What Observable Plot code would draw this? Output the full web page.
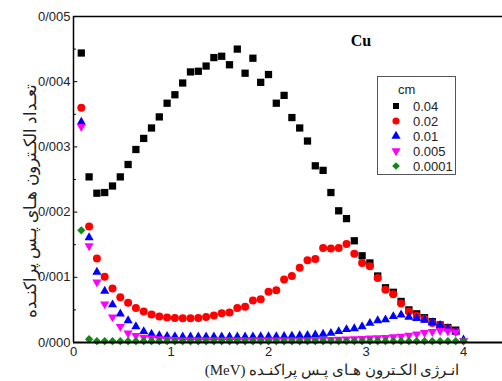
<!DOCTYPE html>
<html><head><meta charset="utf-8">
<script src="https://cdn.jsdelivr.net/npm/d3@7"></script>
<script src="https://cdn.jsdelivr.net/npm/@observablehq/plot@0.6"></script>
<style>body{margin:0;background:#fff} svg{display:block}</style>
</head><body><div id="chart"></div>
<script>
// Energy of backscattered electrons (MeV)
const energy = [0.08,0.16,0.24,0.32,0.40,0.48,0.56,0.64,0.72,0.80,
  0.88,0.96,1.04,1.12,1.20,1.28,1.36,1.44,1.52,1.60,
  1.68,1.76,1.84,1.92,2.00,2.08,2.16,2.24,2.32,2.40,
  2.48,2.56,2.64,2.72,2.80,2.88,2.96,3.04,3.12,3.20,
  3.28,3.36,3.44,3.52,3.60,3.68,3.76,3.84,3.92,4.00];

const seriesNames = ["0.04","0.02","0.01","0.005","0.0001"];
const seriesColors = ["#000000","#ff0000","#0000ff","#ff00ff","#118811"];

// counts, in units of 0.001
const s004 = [4.44,2.54,2.29,2.30,2.40,2.54,2.73,2.96,3.13,3.29,
  3.46,3.67,3.80,3.98,4.15,4.16,4.24,4.37,4.39,4.26,
  4.50,4.13,4.36,3.99,4.11,3.67,3.79,3.45,3.29,3.09,
  2.71,2.64,2.30,2.02,1.90,1.56,1.33,1.22,1.02,0.84,
  0.77,0.63,0.50,0.44,0.38,0.32,0.27,0.23,0.19];
const s002 = [3.60,1.78,1.29,1.01,0.83,0.695,0.61,0.53,0.475,0.43,
  0.40,0.383,0.375,0.373,0.373,0.375,0.39,0.414,0.45,0.46,
  0.53,0.55,0.645,0.665,0.78,0.80,0.966,1.02,1.145,1.26,
  1.28,1.45,1.44,1.45,1.51,1.36,1.22,1.17,0.99,0.81,
  0.74,0.60,0.475,0.41,0.36,0.30,0.26,0.22,0.17];
const s001 = [3.38,1.61,1.08,0.79,0.58,0.44,0.337,0.245,0.17,0.13,
  0.107,0.097,0.09,0.088,0.087,0.086,0.086,0.086,0.087,0.087,
  0.088,0.088,0.089,0.09,0.09,0.092,0.095,0.10,0.105,0.11,
  0.118,0.13,0.143,0.17,0.20,0.215,0.245,0.296,0.337,0.35,
  0.40,0.425,0.39,0.37,0.345,0.305,0.265,0.215,0.165,0.04];
const s0005 = [3.31,1.48,0.925,0.59,0.39,0.245,0.143,0.107,0.08,0.065,
  0.055,0.048,0.042,0.038,0.035,0.035,0.035,0.035,0.035,0.035,
  0.035,0.035,0.035,0.035,0.035,0.035,0.035,0.035,0.036,0.038,
  0.04,0.042,0.045,0.048,0.052,0.056,0.06,0.065,0.07,0.075,
  0.085,0.095,0.11,0.13,0.15,0.165,0.18,0.175,0.16,0.03];
const s00001 = [1.72,0.05,0.02,0.02,0.02,0.02,0.02,0.02,0.02,0.02,
  0.02,0.02,0.02,0.02,0.02,0.02,0.02,0.02,0.02,0.02,
  0.02,0.02,0.02,0.02,0.02,0.02,0.02,0.02,0.02,0.02,
  0.02,0.02,0.02,0.02,0.02,0.02,0.02,0.02,0.02,0.02,
  0.02,0.02,0.02,0.02,0.02,0.02,0.02,0.02,0.02,0.02];

const yTicks = [0,0.001,0.002,0.003,0.004,0.005];
const yMinor = [0.0005,0.0015,0.0025,0.0035,0.0045];
const xTicks = [0,1,2,3,4];

const allSeries = [s004, s002, s001, s0005, s00001];
const rows = allSeries.map((vals, i) =>
  vals.map((v, j) => ({e: energy[j], n: v / 1000, s: seriesNames[i]})));

const symbolSpec = [
  {symbol: "square", r: 4.1, rotate: 0},
  {symbol: "circle", r: 4, rotate: 0},
  {symbol: "triangle", r: 3.4, rotate: 0},
  {symbol: "triangle", r: 3.4, rotate: 180},
  {symbol: "square", r: 3.3, rotate: 45}
];

const fmt = d => d.toFixed(3).replace(".", "/");

const chart = Plot.plot({
  width: 502, height: 381,
  marginLeft: 73, marginTop: 16, marginBottom: 39, marginRight: 0,
  style: {fontFamily: "'Liberation Sans', Arial, sans-serif", fontSize: "13px", background: "#fff"},
  x: {domain: [0, 4.4]},
  y: {domain: [0, 0.005]},
  marks: [
    Plot.axisY({ticks: yTicks, tickFormat: fmt, tickSize: 0, tickPadding: 3, label: null, fill: "#222", fontSize: 13}),
    Plot.axisX({ticks: xTicks, tickFormat: d => String(d), tickSize: 0, tickPadding: 4, label: null, fill: "#222", fontSize: 13}),
    Plot.ruleY(yTicks.slice(1, -1), {x1: 0, x2: 0.045, stroke: "#000", strokeWidth: 1}),
    Plot.ruleY(yMinor, {x1: 0, x2: 0.03, stroke: "#000", strokeWidth: 1}),
    ...rows.map((data, i) => Plot.dot(data, {
      x: "e", y: "n", symbol: symbolSpec[i].symbol, r: symbolSpec[i].r,
      rotate: symbolSpec[i].rotate, fill: seriesColors[i], stroke: "none"
    })),
    Plot.ruleY([0.005], {stroke: "#000", strokeWidth: 1.5}),
    Plot.ruleY([0], {stroke: "#000", strokeWidth: 2}),
    Plot.ruleX([0], {stroke: "#000", strokeWidth: 1.5})
  ]
});
document.getElementById("chart").appendChild(chart);

const svg = d3.select(chart);
// Axis titles
svg.append("text")
  .attr("x", 332).attr("y", 375)
  .attr("text-anchor", "middle")
  .attr("direction", "rtl")
  .style("font-family", "'Liberation Serif','DejaVu Serif',serif")
  .style("font-size", "15px").attr("fill", "#222")
  .text("انـرژی الکـترون هـای پـس پراکنـده (MeV)");
svg.append("text")
  .attr("transform", "translate(36,201) rotate(-90)")
  .attr("text-anchor", "middle")
  .attr("direction", "rtl")
  .style("font-family", "'Liberation Serif','DejaVu Serif',serif")
  .style("font-size", "17px").attr("fill", "#222")
  .text("تعـداد الکـترون هـای پـس پراکنـده");
// Title
svg.append("text")
  .attr("x", 361).attr("y", 46)
  .attr("text-anchor", "middle")
  .style("font-family", "'Liberation Serif','Times New Roman',serif")
  .style("font-size", "16px").style("font-weight", "bold").attr("fill", "#000")
  .text("Cu");

// Legend
const lg = svg.append("g").attr("text-anchor", "start");
lg.append("rect").attr("x", 377.5).attr("y", 76.5).attr("width", 78).attr("height", 98)
  .attr("fill", "#fff").attr("stroke", "#555").attr("stroke-width", 1);
lg.append("text").attr("x", 398).attr("y", 94).attr("text-anchor", "start")
  .style("font-family", "'Liberation Sans',Arial,sans-serif").style("font-size", "13px")
  .attr("fill", "#222").text("cm");
const legSym = [
  {type: d3.symbolSquare, size: 36, rot: 0},
  {type: d3.symbolCircle, size: 40, rot: 0},
  {type: d3.symbolTriangle, size: 36, rot: 0},
  {type: d3.symbolTriangle, size: 36, rot: 180},
  {type: d3.symbolSquare, size: 30, rot: 45}
];
seriesNames.forEach((name, i) => {
  const yy = 106 + i * 15;
  lg.append("path")
    .attr("d", d3.symbol().type(legSym[i].type).size(legSym[i].size)())
    .attr("transform", `translate(396,${yy}) rotate(${legSym[i].rot})`)
    .attr("fill", seriesColors[i]);
  lg.append("text").attr("x", 413).attr("y", yy + 4.5).attr("text-anchor", "start")
    .style("font-family", "'Liberation Sans',Arial,sans-serif").style("font-size", "13px")
    .attr("fill", "#222").text(name);
});
</script></body></html>
